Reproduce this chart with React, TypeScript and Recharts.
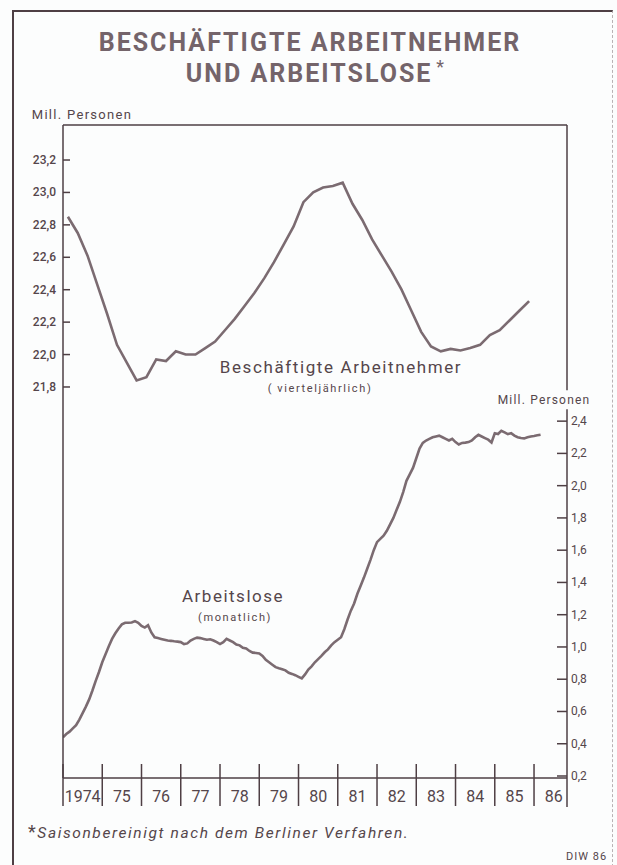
import { LineChart, Line, XAxis, YAxis, ReferenceLine } from 'recharts';

// quarterly, 1974 Q1 .. 1985 Q4 (Mill. Personen)
const employed = [
  22.85, 22.75, 22.61, 22.43,
  22.25, 22.06, 21.95, 21.84,
  21.86, 21.97, 21.96, 22.02,
  22.0, 22.0, 22.04, 22.08,
  22.15, 22.22, 22.3, 22.38,
  22.47, 22.57, 22.68, 22.79,
  22.94, 23.0, 23.03, 23.04,
  23.06, 22.93, 22.83, 22.71,
  22.61, 22.51, 22.4, 22.27,
  22.14, 22.05, 22.02, 22.035,
  22.025, 22.04, 22.06, 22.12,
  22.15, 22.21, 22.27, 22.33,
];

// monthly, Jan 1974 .. Mar 1986 (Mill. Personen)
const unemployed = [
  0.44, 0.46, 0.475, 0.495, 0.515, 0.55, 0.59, 0.63, 0.675, 0.73, 0.79, 0.845,
  0.905, 0.955, 1.005, 1.05, 1.085, 1.115, 1.14, 1.15, 1.15, 1.152, 1.16, 1.15,
  1.13, 1.12, 1.135, 1.09, 1.06, 1.055, 1.05, 1.045, 1.04, 1.038, 1.035, 1.033,
  1.03, 1.018, 1.022, 1.04, 1.05, 1.058, 1.055, 1.05, 1.045, 1.048, 1.04, 1.03,
  1.018, 1.03, 1.05, 1.04, 1.03, 1.015, 1.01, 0.995, 0.99, 0.975, 0.965, 0.963,
  0.96, 0.945, 0.92, 0.905, 0.89, 0.875, 0.868, 0.862, 0.855, 0.84, 0.833, 0.825,
  0.815, 0.805, 0.83, 0.86, 0.88, 0.905, 0.925, 0.945, 0.967, 0.985, 1.01, 1.03,
  1.045, 1.06, 1.11, 1.17, 1.225, 1.27, 1.33, 1.38, 1.43, 1.485, 1.54, 1.6,
  1.65, 1.67, 1.69, 1.72, 1.76, 1.8, 1.85, 1.9, 1.96, 2.03, 2.07, 2.11,
  2.17, 2.23, 2.265, 2.28, 2.29, 2.3, 2.305, 2.31, 2.3, 2.29, 2.28, 2.29,
  2.27, 2.255, 2.265, 2.267, 2.27, 2.28, 2.3, 2.315, 2.305, 2.295, 2.285, 2.268,
  2.325, 2.32, 2.34, 2.33, 2.32, 2.325, 2.31, 2.3, 2.295, 2.293, 2.3, 2.305,
  2.308, 2.312, 2.316,
];

const years = [1974, 1975, 1976, 1977, 1978, 1979, 1980, 1981, 1982, 1983, 1984, 1985, 1986];
const yearLabels = ['1974', '75', '76', '77', '78', '79', '80', '81', '82', '83', '84', '85', '86'];
const leftTicks = [21.8, 22.0, 22.2, 22.4, 22.6, 22.8, 23.0, 23.2];
const rightTicks = [0.2, 0.4, 0.6, 0.8, 1.0, 1.2, 1.4, 1.6, 1.8, 2.0, 2.2, 2.4];

const employedData = employed.map((v, i) => ({ t: 1974 + (i + 0.5) / 4, emp: v }));
const unemployedData = unemployed.map((v, i) => ({ t: 1974 + i / 12, unemp: v }));

const X_MAX = 1986.84;
const LEFT_DOMAIN = [19.388, 23.416];
const RIGHT_DOMAIN = [0.1876, 4.236];
const PLOT_LEFT = 63;
const PLOT_RIGHT = 567;
const YEAR_PX = (PLOT_RIGHT - PLOT_LEFT) / (X_MAX - 1974);

const LINE = '#7b6b71';
const AXIS = '#4e3f44';
const TEXT = '#55464b';
const FONT = 'Roboto, "DejaVu Sans", sans-serif';

const fmt = (v: number) => v.toFixed(1).replace('.', ',');

function LeftTick({ x, y, payload }: any) {
  return (
    <g>
      <line x1={x} x2={x + 7} y1={y} y2={y} stroke={AXIS} strokeWidth={1.5} />
      <text x={x - 7} y={y} dy={4} textAnchor="end" fontSize={12} fontWeight={500} fill={TEXT} fontFamily={FONT}>
        {fmt(payload.value)}
      </text>
    </g>
  );
}

function RightTick({ x, y, payload }: any) {
  return (
    <g>
      <line x1={x - 10} x2={x} y1={y} y2={y} stroke={AXIS} strokeWidth={1.5} />
      <text x={x + 4} y={y} dy={4} textAnchor="start" fontSize={12} fill={TEXT} fontFamily={FONT}>
        {fmt(payload.value)}
      </text>
    </g>
  );
}

function YearTick({ x, y, payload, index }: any) {
  return (
    <g>
      <line x1={x} x2={x} y1={y - 14} y2={y + 28} stroke={AXIS} strokeWidth={1.5} />
      <text x={x + YEAR_PX / 2} y={y + 24} textAnchor="middle" fontSize={16} fill={TEXT} fontFamily={FONT}>
        {yearLabels[index] ?? String(payload.value)}
      </text>
    </g>
  );
}

const abs = (left: number, top: number, extra: React.CSSProperties = {}): React.CSSProperties => ({
  position: 'absolute',
  left,
  top,
  transform: 'translate(-50%, -50%)',
  whiteSpace: 'nowrap',
  fontFamily: FONT,
  color: TEXT,
  ...extra,
});

export default function App() {
  return (
    <div style={{ position: 'absolute', left: 0, top: 0, width: 617, height: 865, background: '#fcfdfd', overflow: 'hidden' }}>
      <div
        style={{
          position: 'absolute',
          left: 12,
          top: 10,
          width: 598,
          height: 900,
          borderLeft: `2px solid ${AXIS}`,
          borderTop: `2px solid ${AXIS}`,
          borderRight: '1px dashed #b9b2b4',
        }}
      />
      <div style={abs(310, 42, { fontSize: 25, fontWeight: 700, letterSpacing: 2, color: '#74646a' })}>
        BESCHÄFTIGTE ARBEITNEHMER
      </div>
      <div style={abs(316, 72, { fontSize: 25, fontWeight: 700, letterSpacing: 2, color: '#74646a' })}>
        UND ARBEITSLOSE<span style={{ fontWeight: 400, verticalAlign: 'super', fontSize: 18, marginLeft: 4 }}>*</span>
      </div>
      <div style={abs(82, 114, { fontSize: 13, letterSpacing: 1.3 })}>Mill. Personen</div>
      <div style={abs(544, 400, { fontSize: 12, letterSpacing: 1.2 })}>Mill. Personen</div>

      <div style={abs(341, 367, { fontSize: 17, letterSpacing: 1.6 })}>Beschäftigte Arbeitnehmer</div>
      <div style={abs(320, 388, { fontSize: 11, letterSpacing: 1.6 })}>( vierteljährlich)</div>
      <div style={abs(233, 596, { fontSize: 17, letterSpacing: 1.5 })}>Arbeitslose</div>
      <div style={abs(235, 617, { fontSize: 11, letterSpacing: 1.6 })}>(monatlich)</div>

      <div style={{ position: 'absolute', left: 0, top: 0 }}>
        <LineChart width={617} height={865} margin={{ top: 125, right: 0, bottom: 57, left: 0 }}>
          <XAxis
            dataKey="t"
            type="number"
            domain={[1974, X_MAX]}
            ticks={years}
            allowDataOverflow
            height={30}
            tickSize={0}
            tickMargin={0}
            tickLine={false}
            tick={<YearTick />}
            interval={0}
            axisLine={{ stroke: AXIS, strokeWidth: 1.5 }}
          />
          <YAxis
            yAxisId="left"
            orientation="left"
            width={63}
            domain={LEFT_DOMAIN}
            ticks={leftTicks}
            allowDataOverflow
            tickSize={0}
            tickMargin={0}
            tickLine={false}
            tick={<LeftTick />}
            interval={0}
            axisLine={{ stroke: AXIS, strokeWidth: 1.5 }}
          />
          <YAxis
            yAxisId="right"
            orientation="right"
            width={50}
            domain={RIGHT_DOMAIN}
            ticks={rightTicks}
            allowDataOverflow
            tickSize={0}
            tickMargin={0}
            tickLine={false}
            tick={<RightTick />}
            interval={0}
            axisLine={false}
          />
          <ReferenceLine yAxisId="left" y={LEFT_DOMAIN[1]} stroke={AXIS} strokeWidth={1.5} ifOverflow="visible" />
          <ReferenceLine
            yAxisId="left"
            segment={[
              { x: X_MAX, y: LEFT_DOMAIN[1] },
              { x: X_MAX, y: 21.78 },
            ]}
            stroke={AXIS}
            strokeWidth={1.5}
            ifOverflow="visible"
          />
          <ReferenceLine
            yAxisId="right"
            segment={[
              { x: X_MAX, y: 2.474 },
              { x: X_MAX, y: 0.008 },
            ]}
            stroke={AXIS}
            strokeWidth={1.5}
            ifOverflow="visible"
          />
          <Line
            yAxisId="left"
            data={employedData}
            dataKey="emp"
            type="linear"
            stroke={LINE}
            strokeWidth={2.6}
            dot={false}
            isAnimationActive={false}
          />
          <Line
            yAxisId="right"
            data={unemployedData}
            dataKey="unemp"
            type="linear"
            stroke={LINE}
            strokeWidth={2.6}
            dot={false}
            isAnimationActive={false}
          />
        </LineChart>
      </div>

      <div style={{ position: 'absolute', left: 28, top: 821, fontFamily: FONT, fontSize: 15.5, fontStyle: 'italic', letterSpacing: 1.6, color: TEXT, whiteSpace: 'nowrap' }}>
        <span style={{ fontSize: 18, fontStyle: 'normal' }}>*</span>Saisonbereinigt nach dem Berliner Verfahren.
      </div>
      <div style={{ position: 'absolute', left: 566, top: 850, fontFamily: FONT, fontSize: 11, letterSpacing: 1, color: TEXT }}>
        DIW 86
      </div>
    </div>
  );
}
